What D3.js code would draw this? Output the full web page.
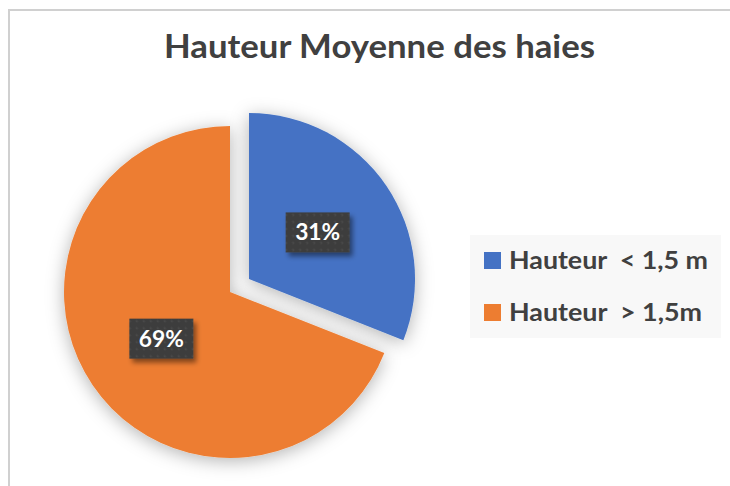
<!DOCTYPE html>
<html>
<head>
<meta charset="utf-8">
<script src="https://cdn.jsdelivr.net/npm/d3@7"></script>
<style>
  html, body { margin: 0; padding: 0; background: #fff; }
  svg { display: block; font-family: Lato, "Open Sans", sans-serif; }
</style>
</head>
<body>
<svg id="chart" width="730" height="486"></svg>
<script>
// Data
const TITLE = "Hauteur Moyenne des haies";
const categories = ["Hauteur  < 1,5 m", "Hauteur  > 1,5m"];
const values = [31, 69];
const labels = ["31%", "69%"];
const colors = ["#4472C4", "#ED7D31"];

// Layout
const W = 730, H = 486;
const CX = 230, CY = 292, R = 166;
const EXPLODE = 23;

const svg = d3.select("#chart");
const defs = svg.append("defs");

// soft shadow under the slices
const sliceShadow = defs.append("filter").attr("id", "sliceShadow")
  .attr("x", "-30%").attr("y", "-30%").attr("width", "160%").attr("height", "160%");
sliceShadow.append("feDropShadow")
  .attr("dx", 0).attr("dy", 3).attr("stdDeviation", 9)
  .attr("flood-color", "#000").attr("flood-opacity", 0.3);

// shadow for the label boxes
const boxShadow = defs.append("filter").attr("id", "boxShadow")
  .attr("x", "-30%").attr("y", "-30%").attr("width", "160%").attr("height", "160%");
boxShadow.append("feDropShadow")
  .attr("dx", 3).attr("dy", 4).attr("stdDeviation", 2.5)
  .attr("flood-color", "#000").attr("flood-opacity", 0.45);

// dotted fill for the label boxes
const pat = defs.append("pattern").attr("id", "dots")
  .attr("width", 7).attr("height", 7).attr("patternUnits", "userSpaceOnUse");
pat.append("rect").attr("width", 7).attr("height", 7).attr("fill", "#3d3d3d");
pat.append("circle").attr("cx", 3.5).attr("cy", 3.5).attr("r", 1).attr("fill", "#4e4e4e");

// chart border
svg.append("rect")
  .attr("x", 9).attr("y", 10)
  .attr("width", W + 20).attr("height", H + 20)
  .attr("fill", "#fff")
  .attr("stroke", "#d0d0d0").attr("stroke-width", 2);

// Title
svg.append("text")
  .attr("x", 379.5).attr("y", 58)
  .attr("text-anchor", "middle")
  .attr("font-size", 32).attr("font-weight", 700)
  .attr("fill", "#404040")
  .attr("textLength", 431).attr("lengthAdjust", "spacingAndGlyphs")
  .text(TITLE);

// Pie
const pie = d3.pie().sort(null).value(d => d.value);
const arcs = pie(categories.map((c, i) => ({ name: c, value: values[i], label: labels[i], color: colors[i] })));
const arc = d3.arc().innerRadius(0).outerRadius(R);

function offset(d, i) {
  if (i !== 0) return [0, 0];
  const mid = (d.startAngle + d.endAngle) / 2;
  return [Math.sin(mid) * EXPLODE, -Math.cos(mid) * EXPLODE];
}

const pieG = svg.append("g").attr("transform", `translate(${CX},${CY})`);

pieG.selectAll("path.slice")
  .data(arcs)
  .join("path")
  .attr("class", "slice")
  .attr("d", arc)
  .attr("transform", (d, i) => `translate(${offset(d, i)})`)
  .attr("fill", d => d.data.color)
  .attr("filter", "url(#sliceShadow)");

// Data labels
const lab = pieG.selectAll("g.lab")
  .data(arcs)
  .join("g")
  .attr("class", "lab")
  .attr("transform", (d, i) => {
    const [ox, oy] = offset(d, i);
    const [x, y] = arc.centroid(d);
    return `translate(${x + ox},${y + oy})`;
  });

lab.append("rect")
  .attr("x", -32).attr("y", -20)
  .attr("width", 64).attr("height", 40)
  .attr("fill", "url(#dots)")
  .attr("filter", "url(#boxShadow)");

lab.append("text")
  .attr("text-anchor", "middle")
  .attr("y", 8)
  .attr("font-size", 22).attr("font-weight", 700)
  .attr("fill", "#fff")
  .attr("textLength", 45).attr("lengthAdjust", "spacingAndGlyphs")
  .text(d => d.data.label);

// Legend
const legend = svg.append("g");
legend.append("rect")
  .attr("x", 470).attr("y", 235)
  .attr("width", 251).attr("height", 103)
  .attr("fill", "#f8f8f8");

const legendY = d3.scalePoint().domain(categories).range([269, 321]);
const legendW = [199, 193];

const item = legend.selectAll("g.item")
  .data(categories)
  .join("g")
  .attr("class", "item")
  .attr("transform", d => `translate(484,${legendY(d)})`);

item.append("rect")
  .attr("x", 0).attr("y", -17)
  .attr("width", 17).attr("height", 17)
  .attr("fill", (d, i) => colors[i]);

item.append("text")
  .attr("x", 25).attr("y", 0)
  .attr("font-size", 24).attr("font-weight", 700)
  .attr("fill", "#404040")
  .style("white-space", "pre")
  .attr("textLength", (d, i) => legendW[i]).attr("lengthAdjust", "spacingAndGlyphs")
  .text(d => d);
</script>
</body>
</html>
